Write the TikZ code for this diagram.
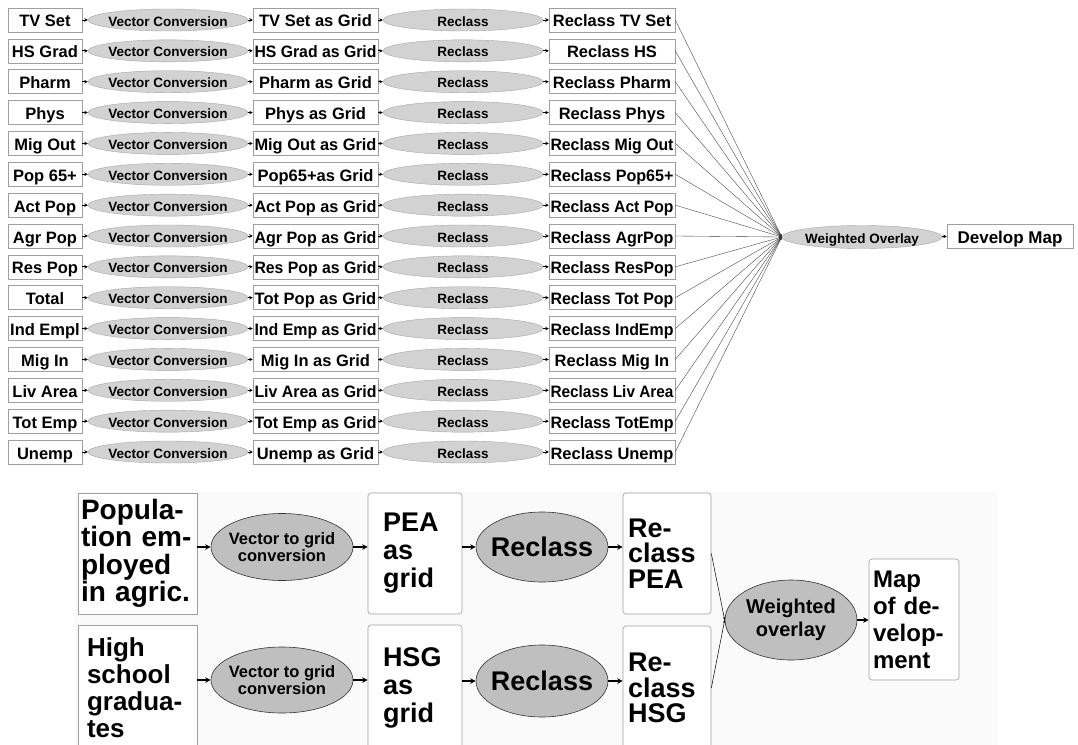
\documentclass[tikz,border=0pt]{standalone}
\usepackage{fontspec}
\setmainfont{Liberation Sans}
\usepackage{graphicx}
\usetikzlibrary{shapes.geometric,arrows.meta}
\newcommand\fitw[2]{\sbox0{#2}\ifdim\wd0>#1\relax\resizebox{#1}{\height}{#2}\else\usebox0\fi}
\newcommand\fs[2]{\bfseries\fontsize{#1}{#2}\selectfont}
\tikzset{
 tbox/.style={draw=gray!75, fill=white, line width=0.5pt, minimum height=24pt, inner sep=0pt, text height=14pt, text depth=0pt, font=\fs{16.5}{18}},
 tell/.style={ellipse, draw=gray!70, fill=gray!35, line width=0.4pt, minimum height=22pt, minimum width=160pt, inner xsep=-14pt, inner ysep=0pt, text height=12pt, text depth=0pt, font=\fs{13.5}{15}},
 tarr/.style={-{Stealth[length=3.5pt,width=3.5pt]}, line width=0.9pt, black},
 fan/.style={draw=gray!45!black, line width=0.35pt, -{Stealth[length=3pt,width=2pt]}},
 bbox/.style={draw=gray!75, fill=white, line width=0.6pt, align=left, inner sep=0pt},
 bell/.style={ellipse, draw=gray!40!black, fill=gray!50, line width=0.6pt, inner xsep=-14pt, inner ysep=0pt, align=center},
 barr/.style={-{Stealth[length=5.5pt,width=5.5pt]}, line width=1.6pt, black},
 thin arr/.style={-{Stealth[length=3pt,width=2.5pt]}, line width=0.5pt, black},
}
\begin{document}
\begin{tikzpicture}[x=1pt,y=-1pt]
\clip (0,0) rectangle (1078,744);
\fill[white] (0,0) rectangle (1078,744);
\fill[black!2] (75,492) rectangle (997,760);
% ---------- top: 15 rows ----------
\foreach \i/\a/\b/\c in {
 1/TV Set/TV Set as Grid/Reclass TV Set,
 2/HS Grad/HS Grad as Grid/Reclass HS,
 3/Pharm/Pharm as Grid/Reclass Pharm,
 4/Phys/Phys as Grid/Reclass Phys,
 5/Mig Out/Mig Out as Grid/Reclass Mig Out,
 6/Pop 65+/Pop65+as Grid/Reclass Pop65+,
 7/Act Pop/Act Pop as Grid/Reclass Act Pop,
 8/Agr Pop/Agr Pop as Grid/Reclass AgrPop,
 9/Res Pop/Res Pop as Grid/Reclass ResPop,
 10/Total/Tot Pop as Grid/Reclass Tot Pop,
 11/Ind Empl/Ind Emp as Grid/Reclass IndEmp,
 12/Mig In/Mig In as Grid/Reclass Mig In,
 13/Liv Area/Liv Area as Grid/Reclass Liv Area,
 14/Tot Emp/Tot Emp as Grid/Reclass TotEmp,
 15/Unemp/Unemp as Grid/Reclass Unemp}{
 \pgfmathsetmacro\yy{20+(\i-1)*30.857}
 \node[tbox, minimum width=74pt] (a\i) at (45,\yy) {\fitw{71pt}{\a}};
 \node[tell] (v\i) at (168,\yy) {Vector Conversion};
 \node[tbox, minimum width=125pt] (g\i) at (315.5,\yy) {\fitw{122pt}{\b}};
 \node[tell] (r\i) at (463,\yy) {Reclass};
 \node[tbox, minimum width=126pt] (c\i) at (612,\yy) {\fitw{123pt}{\c}};
 \draw[tarr] (a\i) -- (v\i);
 \draw[tarr] (v\i) -- (g\i);
 \draw[tarr] (g\i) -- (r\i);
 \draw[tarr] (r\i) -- (c\i);
}
\node[tell, minimum height=23pt] (wo) at (862,237) {Weighted Overlay};
\node[tbox, minimum width=126pt, font=\fs{17}{18}] (dm) at (1010,236) {Develop Map};
\draw[tarr] (wo) -- (dm);
\foreach \i in {1,...,15}{
 \draw[fan] (c\i.east) -- (wo.west);
}
% ---------- bottom ----------
\node[bbox, minimum width=119pt, minimum height=121pt, text width=113pt, font=\fs{28}{27.5}] (pea0) at (137.5,553.5) {Popula-\\tion em-\\ployed\\in agric.};
\node[bbox, minimum width=119pt, minimum height=125pt, text width=101pt, font=\fs{26}{27}] (hs) at (137.5,687.5) {High\\school\\gradua-\\tes};
\node[bell, minimum width=142pt, minimum height=67pt, font=\fs{16.5}{17}] (vg1) at (282,547) {Vector to grid\\conversion};
\node[bell, minimum width=142pt, minimum height=66pt, font=\fs{16.5}{17}] (vg2) at (282,680) {Vector to grid\\conversion};
\node[bbox, rounded corners=3pt, minimum width=94pt, minimum height=121pt, text width=64pt, font=\fs{27}{28}] (peag) at (415,553.5) {PEA\\as\\grid};
\node[bbox, rounded corners=3pt, minimum width=94pt, minimum height=125pt, text width=64pt, font=\fs{27}{28}] (hsg) at (415,687.5) {HSG\\as\\grid};
\node[bell, minimum width=132pt, minimum height=70pt, font=\fs{27}{28}] (rc1) at (542,547) {Reclass};
\node[bell, minimum width=132pt, minimum height=72pt, font=\fs{27}{28}] (rc2) at (542,681) {Reclass};
\node[bbox, rounded corners=3pt, minimum width=88pt, minimum height=121pt, text width=78pt, font=\fs{27}{25.5}] (rpea) at (667,553.5) {Re-\\class\\PEA};
\node[bbox, rounded corners=3pt, minimum width=88pt, minimum height=124pt, text width=78pt, font=\fs{27}{25.5}] (rhsg) at (667,688) {Re-\\class\\HSG};
\node[bell, minimum width=132pt, minimum height=80pt, font=\fs{20}{23}] (wo2) at (791,620) {Weighted\\overlay};
\node[bbox, rounded corners=3pt, minimum width=90pt, minimum height=121pt, text width=82pt, font=\fs{24}{27}] (map) at (914,619.5) {Map\\of de-\\velop-\\ment};
\draw[barr] (pea0.east |- vg1.west) -- (vg1.west);
\draw[barr] (vg1.east) -- (peag.west |- vg1.east);
\draw[barr] (peag.east |- rc1.west) -- (rc1.west);
\draw[barr] (rc1.east) -- (rpea.west |- rc1.east);
\draw[barr] (hs.east |- vg2.west) -- (vg2.west);
\draw[barr] (vg2.east) -- (hsg.west |- vg2.east);
\draw[barr] (hsg.east |- rc2.west) -- (rc2.west);
\draw[barr] (rc2.east) -- (rhsg.west |- rc2.east);
\draw[thin arr] (rpea.east) -- (wo2.west);
\draw[thin arr] (rhsg.east) -- (wo2.west);
\draw[barr] (wo2.east) -- (map.west |- wo2.east);
\end{tikzpicture}
\end{document}
